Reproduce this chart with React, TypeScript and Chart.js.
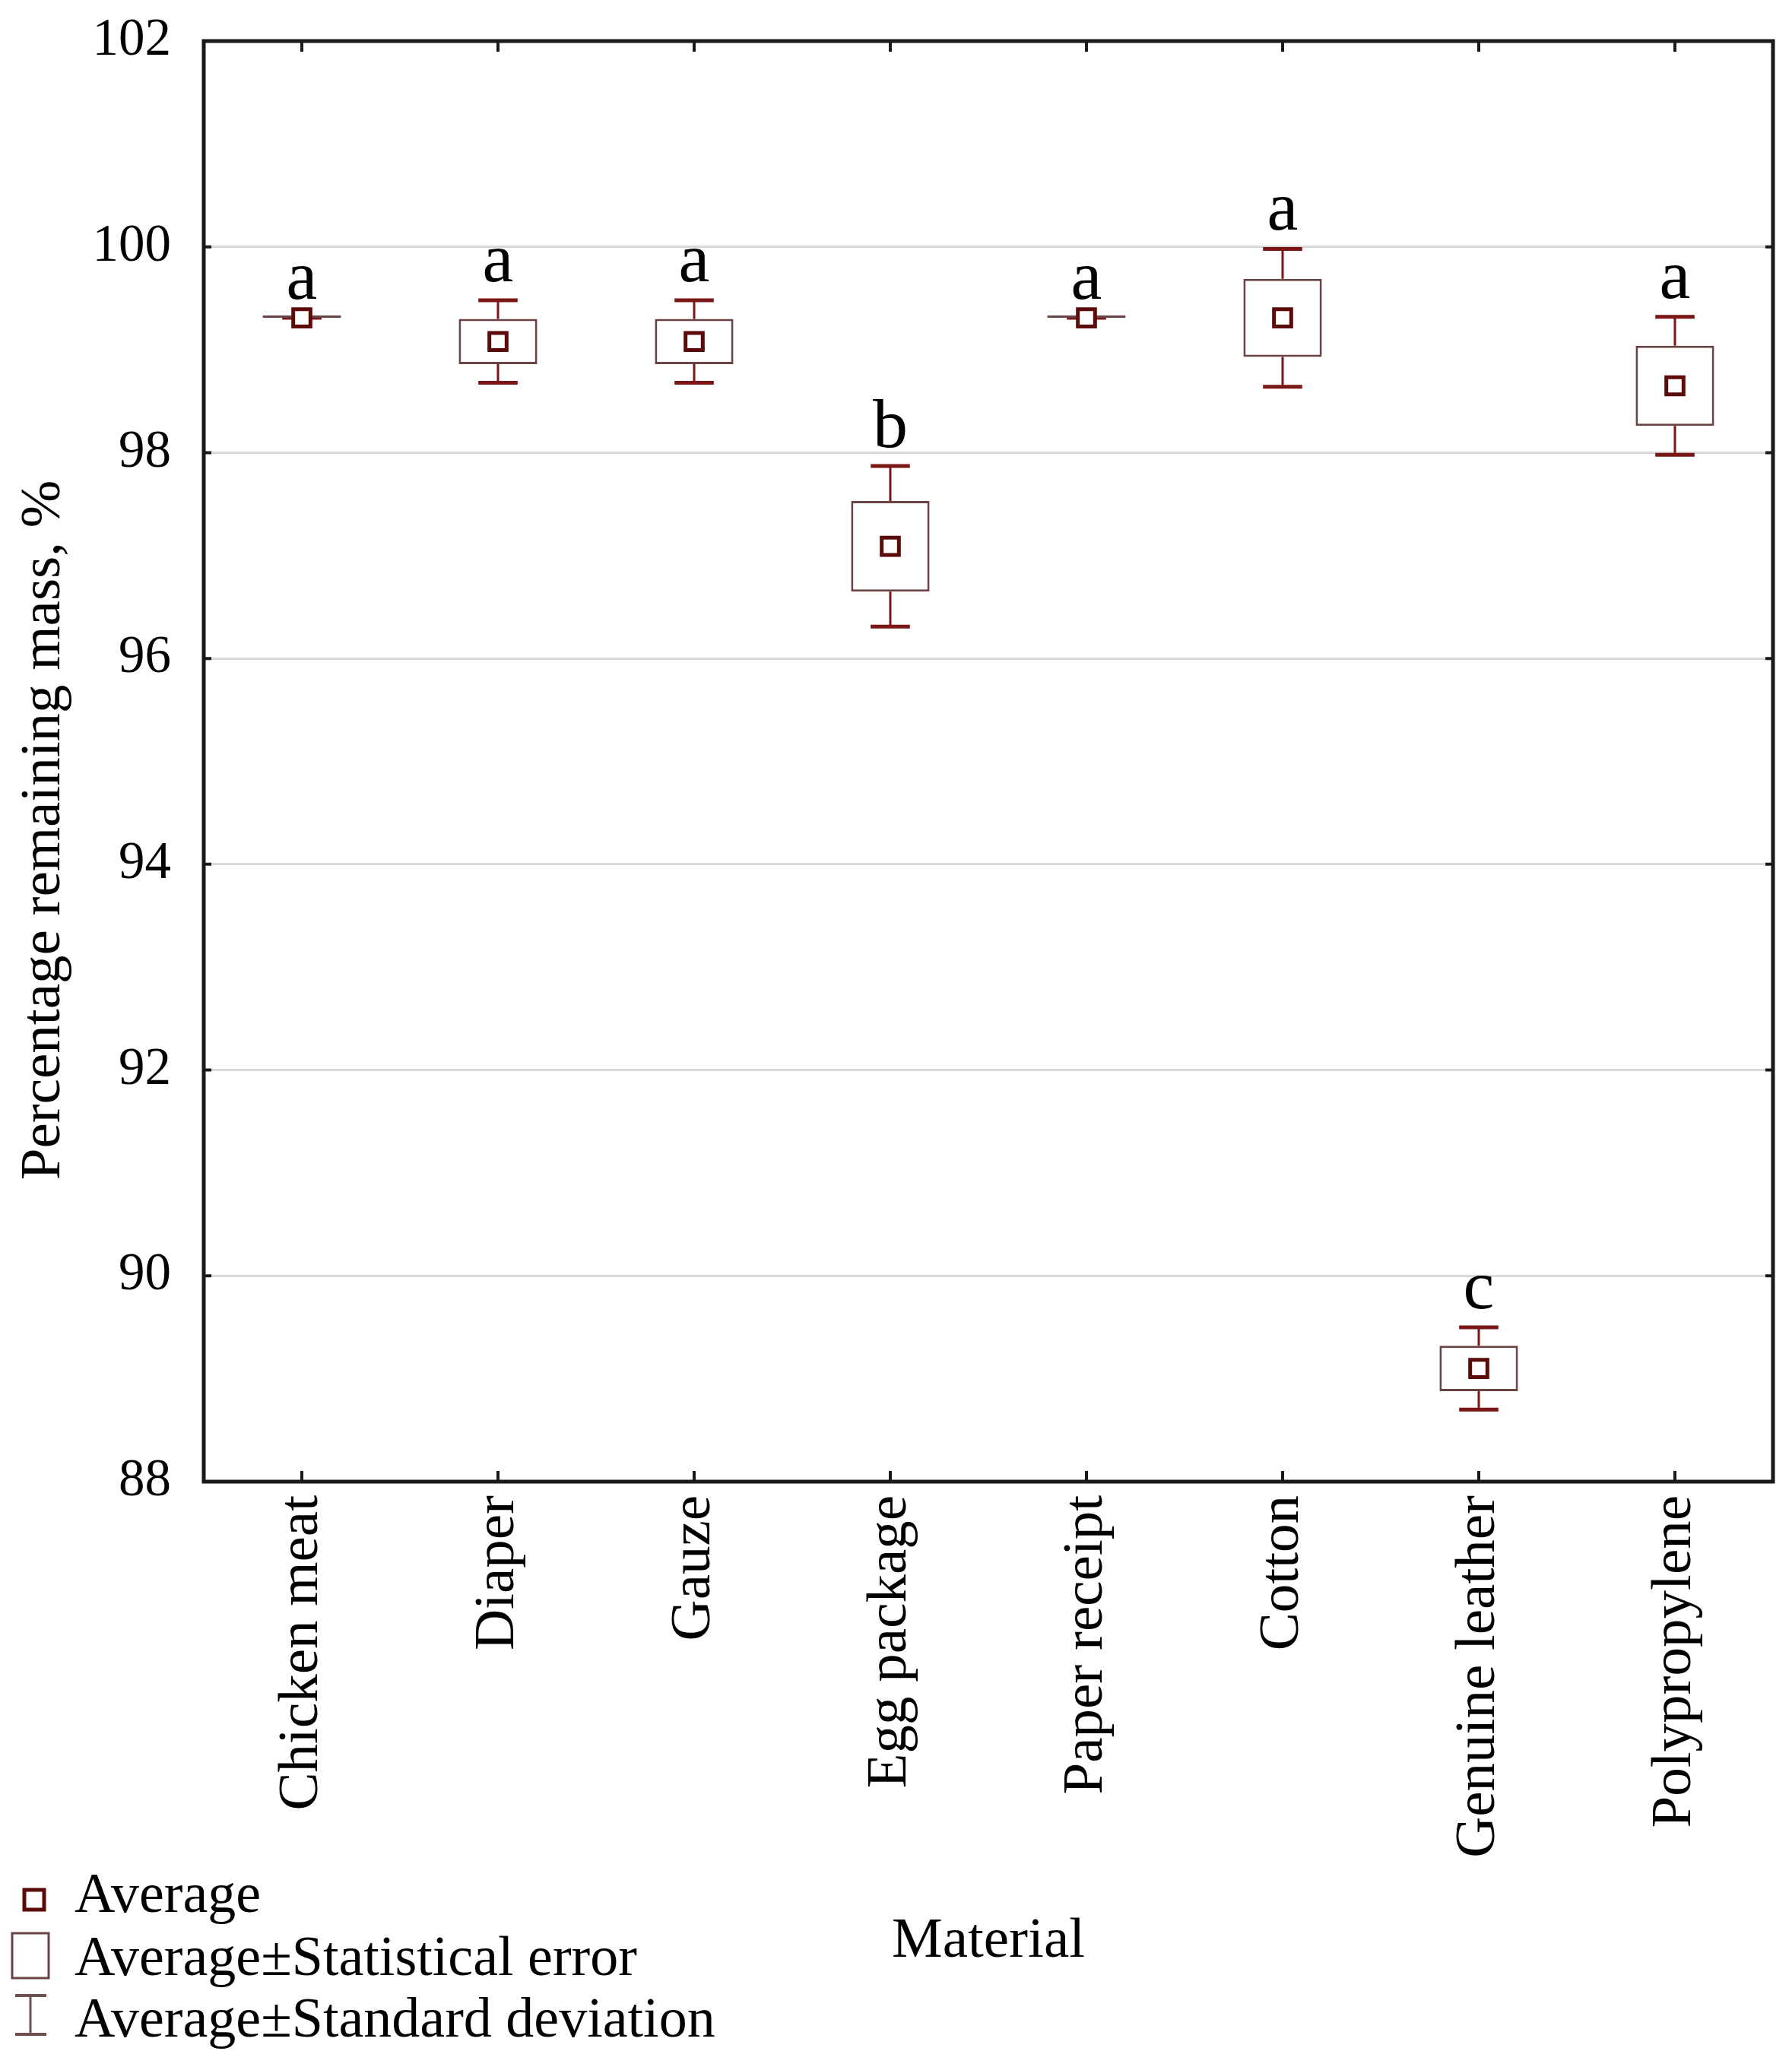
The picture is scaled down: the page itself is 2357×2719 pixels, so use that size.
import React, { useEffect, useRef } from 'react';
import { Chart, registerables } from 'chart.js';

Chart.register(...registerables);

// ---- data ----
const categories = ['Chicken meat', 'Diaper', 'Gauze', 'Egg package', 'Paper receipt', 'Cotton', 'Genuine leather', 'Polypropylene'];
const means = [99.31, 99.08, 99.08, 97.09, 99.31, 99.31, 89.10, 98.65];
const stdErrors = [0, 0.22, 0.22, 0.44, 0, 0.38, 0.22, 0.39];
const stdDevs = [0, 0.40, 0.40, 0.78, 0, 0.67, 0.40, 0.67];
const groupLetters = ['a', 'a', 'a', 'b', 'a', 'a', 'c', 'a'];
const yMin = 88;
const yMax = 102;
const yStep = 2;
const legendLabels = ['Average', 'Average±Statistical error', 'Average±Standard deviation'];
const xTitle = 'Material';
const yTitle = 'Percentage remaining mass, %';

// ---- styles ----
const W = 2357;
const H = 2719;
const SERIF = '"Liberation Serif", "Times New Roman", serif';
const WHISKER = '#7a1616';
const BOX = '#6a4444';
const MEAN = '#5c0b0b';
const AXIS = '#1a1a1a';

const decorPlugin = {
  id: 'decor',
  beforeDatasetsDraw(chart: any) {
    const { ctx, scales } = chart;
    const x = scales.x;
    const y = scales.y;
    const meta = chart.getDatasetMeta(0);
    ctx.save();
    ctx.strokeStyle = WHISKER;
    ctx.lineCap = 'butt';
    means.forEach((m, i) => {
      const bar: any = meta.data[i];
      const bw = bar.width;
      const cx = x.getPixelForValue(i);
      const capHalf = bw * 0.25;
      const top = y.getPixelForValue(m + stdDevs[i]);
      const bot = y.getPixelForValue(m - stdDevs[i]);
      const boxTop = y.getPixelForValue(m + stdErrors[i]);
      const boxBot = y.getPixelForValue(m - stdErrors[i]);
      ctx.lineWidth = 3;
      ctx.beginPath();
      ctx.moveTo(cx, top);
      ctx.lineTo(cx, boxTop);
      ctx.moveTo(cx, boxBot);
      ctx.lineTo(cx, bot);
      ctx.stroke();
      ctx.lineWidth = 5;
      ctx.beginPath();
      ctx.moveTo(cx - capHalf, top);
      ctx.lineTo(cx + capHalf, top);
      ctx.moveTo(cx - capHalf, bot);
      ctx.lineTo(cx + capHalf, bot);
      ctx.stroke();
    });
    ctx.restore();
  },
  afterDraw(chart: any) {
    const { ctx, chartArea, scales } = chart;
    const x = scales.x;
    const y = scales.y;
    const { left, right, top, bottom } = chartArea;
    ctx.save();
    // frame
    ctx.strokeStyle = AXIS;
    ctx.lineWidth = 5;
    ctx.strokeRect(left, top, right - left, bottom - top);
    // inward ticks
    ctx.lineWidth = 4;
    ctx.beginPath();
    categories.forEach((_, i) => {
      const px = x.getPixelForValue(i);
      ctx.moveTo(px, top);
      ctx.lineTo(px, top + 14);
      ctx.moveTo(px, bottom);
      ctx.lineTo(px, bottom - 14);
    });
    for (let v = yMin; v <= yMax; v += yStep) {
      const py = y.getPixelForValue(v);
      ctx.moveTo(left, py);
      ctx.lineTo(left + 10, py);
      ctx.moveTo(right, py);
      ctx.lineTo(right - 10, py);
    }
    ctx.stroke();

    // group letters
    ctx.fillStyle = '#000';
    ctx.font = `92px ${SERIF}`;
    ctx.textAlign = 'center';
    ctx.textBaseline = 'alphabetic';
    means.forEach((m, i) => {
      const px = x.getPixelForValue(i);
      const py = y.getPixelForValue(m + stdDevs[i]) - 25;
      ctx.fillText(groupLetters[i], px, py);
    });

    // y title
    ctx.save();
    ctx.font = `75px ${SERIF}`;
    ctx.translate(78, 1092);
    ctx.rotate(-Math.PI / 2);
    ctx.textAlign = 'center';
    ctx.textBaseline = 'alphabetic';
    ctx.fillText(yTitle, 0, 0);
    ctx.restore();

    // x title
    ctx.font = `75px ${SERIF}`;
    ctx.textAlign = 'center';
    ctx.textBaseline = 'alphabetic';
    ctx.fillText(xTitle, (left + right) / 2, 2574);

    // legend
    ctx.textAlign = 'left';
    ctx.font = `74px ${SERIF}`;
    const baselines = [2515, 2598, 2679];
    legendLabels.forEach((t, i) => ctx.fillText(t, 98, baselines[i]));
    // marker
    ctx.strokeStyle = MEAN;
    ctx.lineWidth = 5;
    ctx.strokeRect(32, 2486, 26, 26);
    // box
    ctx.strokeStyle = BOX;
    ctx.lineWidth = 3;
    ctx.strokeRect(16, 2543, 48, 59);
    // I bar
    ctx.strokeStyle = '#6e5050';
    ctx.lineWidth = 3;
    ctx.beginPath();
    ctx.moveTo(40, 2625);
    ctx.lineTo(40, 2676);
    ctx.stroke();
    ctx.lineWidth = 4;
    ctx.beginPath();
    ctx.moveTo(20, 2625);
    ctx.lineTo(61, 2625);
    ctx.moveTo(20, 2676);
    ctx.lineTo(61, 2676);
    ctx.stroke();
    ctx.restore();
  },
};

export default function App() {
  const canvasRef = useRef<HTMLCanvasElement | null>(null);

  useEffect(() => {
    if (!canvasRef.current) return;
    const chart = new Chart(canvasRef.current, {
      type: 'bar',
      data: {
        labels: categories,
        datasets: [
          {
            type: 'bar',
            label: 'Average±Statistical error',
            data: means.map((m, i) => [m - stdErrors[i], m + stdErrors[i]]) as any,
            backgroundColor: '#ffffff',
            borderColor: BOX,
            borderWidth: 3,
            borderSkipped: false,
            minBarLength: 3,
            barPercentage: 0.4,
            categoryPercentage: 1,
            order: 2,
          } as any,
          {
            type: 'line',
            label: 'Average',
            data: means,
            showLine: false,
            pointStyle: 'rect',
            pointRadius: 16,
            pointBorderWidth: 5,
            pointBorderColor: MEAN,
            pointBackgroundColor: '#ffffff',
            order: 1,
          } as any,
        ],
      },
      options: {
        responsive: false,
        animation: false,
        devicePixelRatio: 1,
        layout: { padding: { left: 0, top: 54, right: 25, bottom: 0 } },
        plugins: {
          legend: { display: false },
          tooltip: { enabled: false },
          title: { display: false },
        },
        scales: {
          x: {
            type: 'category',
            offset: true,
            grid: { display: false, drawTicks: false },
            border: { display: false },
            ticks: {
              minRotation: 90,
              maxRotation: 90,
              padding: 18,
              color: '#000',
              font: { family: SERIF, size: 75 },
            },
            afterFit(scale: any) {
              scale.height = 770;
            },
          },
          y: {
            type: 'linear',
            min: yMin,
            max: yMax,
            ticks: {
              stepSize: yStep,
              padding: 43,
              color: '#000',
              font: { family: SERIF, size: 69 },
            },
            grid: { color: '#d9d9d9', lineWidth: 3, drawTicks: false },
            border: { display: false },
            afterFit(scale: any) {
              scale.width = 268;
              scale.paddingTop = 0;
              scale.paddingBottom = 0;
            },
          },
        },
      },
      plugins: [decorPlugin],
    });
    return () => chart.destroy();
  }, []);

  return (
    <div style={{ position: 'absolute', left: 0, top: 0, width: W, height: H, background: '#fff' }}>
      <canvas ref={canvasRef} width={W} height={H} style={{ width: W, height: H, display: 'block' }} />
    </div>
  );
}
